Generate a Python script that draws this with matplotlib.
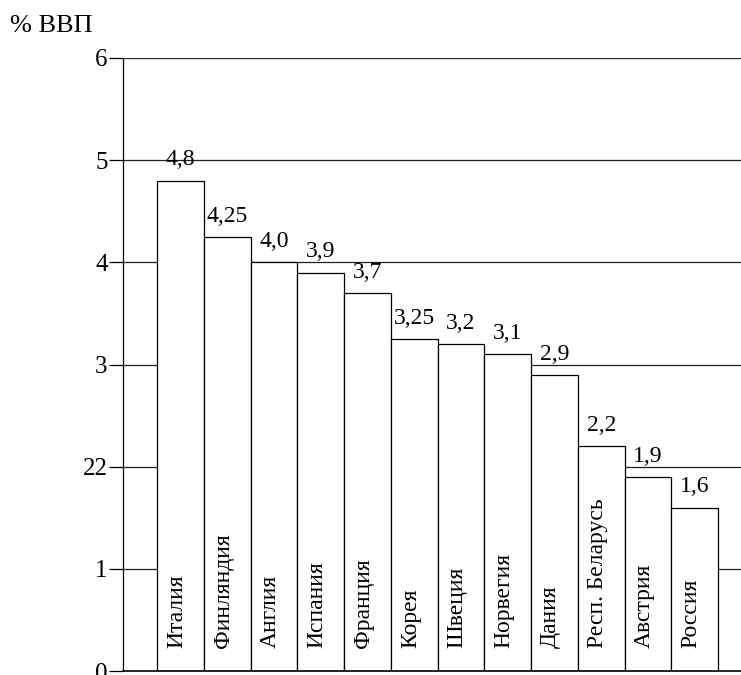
import numpy as np
import matplotlib.pyplot as plt

plt.rcParams['font.family'] = ['Liberation Serif', 'DejaVu Serif']

countries = ['Италия', 'Финляндия', 'Англия', 'Испания', 'Франция', 'Корея',
             'Швеция', 'Норвегия', 'Дания', 'Респ. Беларусь', 'Австрия', 'Россия']
values = [4.8, 4.25, 4.0, 3.9, 3.7, 3.25, 3.2, 3.1, 2.9, 2.2, 1.9, 1.6]
value_labels = ['4,8', '4,25', '4,0', '3,9', '3,7', '3,25', '3,2', '3,1', '2,9', '2,2', '1,9', '1,6']
yticks = [0, 1, 2, 3, 4, 5, 6]
ytick_labels = ['0', '1', '22', '3', '4', '5', '6']

fig = plt.figure(figsize=(7.41, 6.75), dpi=100)
ax = fig.add_axes([123 / 741, 4 / 675, 1 - 123 / 741, (671 - 58) / 675])

x = np.arange(len(values))
for yv in yticks[1:]:
    ax.axhline(yv, color='#222222', lw=0.9, zorder=0)
ax.bar(x, values, width=1.0, color='white', edgecolor='black', linewidth=0.9, zorder=2)

for xi, v, lab in zip(x, values, value_labels):
    ax.text(xi, v + 0.1, lab, ha='center', va='bottom', fontsize=17, zorder=3)
for xi, name in zip(x, countries):
    ax.text(xi - 0.08, 0.23, name, rotation=90, ha='center', va='bottom', fontsize=17, zorder=3)

ax.set_xlim(-1.23, 11.99)
ax.set_ylim(0, 6)
ax.set_yticks(yticks)
ax.set_yticklabels(ytick_labels, fontsize=18)
ax.tick_params(axis='y', direction='out', length=10, width=0.9, pad=1)
ax.set_xticks([])
for s in ['top', 'right']:
    ax.spines[s].set_visible(False)
ax.spines['left'].set_linewidth(0.9)
ax.spines['bottom'].set_linewidth(1.2)

fig.text(10 / 741, 1 - 26 / 675, '% ВВП', fontsize=19, va='center', ha='left')

fig.savefig('out.png', dpi=100)
